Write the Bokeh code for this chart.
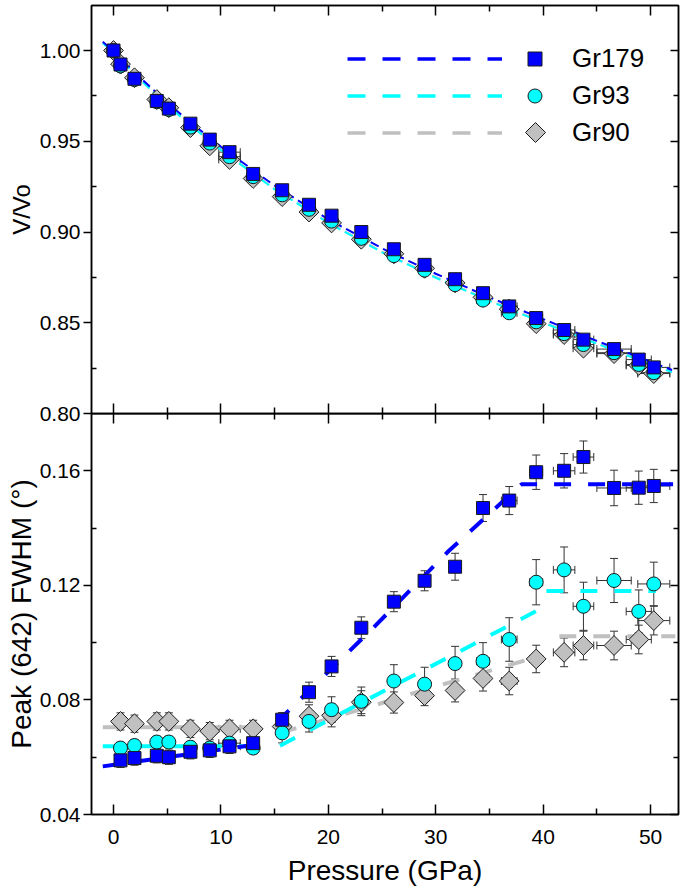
import math
from bokeh.plotting import figure
from bokeh.models import (Range1d, LinearAxis, FixedTicker, PrintfTickFormatter,
                          Whisker, TeeHead, ColumnDataSource, Legend, LegendItem,
                          PolyAnnotation)
from bokeh.layouts import column
from bokeh.embed import file_html
from bokeh.resources import INLINE

nan = float("nan")

# ---------------- data ----------------
series_names = ["Gr179", "Gr93", "Gr90"]

pressure = [0.0, 0.65, 1.95, 4.03, 5.15, 7.16, 8.96, 10.8, 13.0, 15.7, 18.2, 20.3,
            23.07, 26.1, 28.96, 31.8, 34.4, 36.84, 39.35, 41.95, 43.75, 46.6, 48.9, 50.3]
pressure_err = [0.0, 0.2, 0.2, 0.2, 0.2, 0.3, 0.3, 1.0, 0.3, 0.3, 0.3, 0.4,
                0.4, 0.5, 0.5, 0.5, 0.6, 0.73, 0.6, 1.0, 0.96, 1.6, 1.17, 1.49]

v_gr179 = [1.000, 0.9923, 0.9844, 0.9722, 0.9680, 0.9597, 0.9509, 0.9440, 0.9320, 0.9230, 0.9150, 0.9090,
           0.9000, 0.8905, 0.8819, 0.8740, 0.8663, 0.8590, 0.8526, 0.8460, 0.8407, 0.8355, 0.8297, 0.8254]
v_gr93 = [1.000, 0.9915, 0.9840, 0.9718, 0.9675, 0.9578, 0.9490, 0.9415, 0.9305, 0.9205, 0.9125, 0.9060,
          0.8965, 0.8870, 0.8790, 0.8710, 0.8625, 0.8555, 0.8505, 0.8440, 0.8380, 0.8335, 0.8270, 0.8225]
v_gr90 = [1.000, 0.9925, 0.9850, 0.9730, 0.9685, 0.9575, 0.9475, 0.9400, 0.9295, 0.9195, 0.9110, 0.9050,
          0.8960, 0.8880, 0.8800, 0.8720, 0.8640, 0.8575, 0.8495, 0.8435, 0.8360, 0.8330, 0.8265, 0.8220]
v_err = [0.0015, 0.0015, 0.0015, 0.0015, 0.0015, 0.0015, 0.0015, 0.0015, 0.0015, 0.0015, 0.0015, 0.0015,
         0.0015, 0.0015, 0.0015, 0.0015, 0.0015, 0.0015, 0.0015, 0.0015, 0.0015, 0.0015, 0.0015, 0.0015]

# FWHM (no ambient point)
fwhm_pressure = pressure[1:]
fwhm_pressure_err = pressure_err[1:]
fwhm_gr179 = [0.0589, 0.0597, 0.0605, 0.0600, 0.0619, 0.0624, 0.0638, 0.0649, 0.0731, 0.0827, 0.0917,
              0.1052, 0.1143, 0.1216, 0.1265, 0.1470, 0.1496, 0.1595, 0.1600, 0.1648, 0.1540, 0.1541, 0.1547]
fwhm_gr93 = [0.0632, 0.0641, 0.0653, 0.0653, 0.0635, 0.0632, 0.0649, 0.0632, 0.0685, 0.0725, 0.0766,
             0.0795, 0.0866, 0.0855, 0.0927, 0.0935, 0.1011, 0.1211, 0.1254, 0.1127, 0.1217, 0.1109, 0.1205]
fwhm_gr90 = [0.0725, 0.0717, 0.0725, 0.0725, 0.0699, 0.0691, 0.0699, 0.0699, 0.0707, 0.0743, 0.0746,
             0.0792, 0.0791, 0.0815, 0.0833, 0.0875, 0.0866, 0.0943, 0.0966, 0.0990, 0.0990, 0.1011, 0.1077]
fwhm_err_gr179 = [0.0025, 0.0025, 0.0025, 0.0025, 0.0025, 0.0025, 0.0025, 0.0025, 0.0025, 0.0035, 0.0035,
                  0.0038, 0.0035, 0.0035, 0.0047, 0.0047, 0.0049, 0.0060, 0.0060, 0.0056, 0.0062, 0.0058, 0.0058]
fwhm_err_gr93 = [0.0020, 0.0020, 0.0020, 0.0020, 0.0020, 0.0020, 0.0020, 0.0020, 0.0035, 0.0037, 0.0045,
                 0.0050, 0.0057, 0.0059, 0.0060, 0.0065, 0.0076, 0.0079, 0.0080, 0.0084, 0.0077, 0.0075, 0.0076]
fwhm_err_gr90 = [0.0030, 0.0030, 0.0030, 0.0030, 0.0030, 0.0030, 0.0030, 0.0030, 0.0030, 0.0040, 0.0040,
                 0.0040, 0.0037, 0.0035, 0.0040, 0.0044, 0.0048, 0.0048, 0.0050, 0.0050, 0.0050, 0.0050, 0.0050]

# fitted curves
fit_v_pressure = [-1.0, 0.0, 2.5, 5.0, 7.5, 10.0, 15.0, 20.0, 25.0, 30.0, 35.0, 40.0, 45.0, 50.0, 52.0]
fit_v_gr179 = [1.0048, 0.9995, 0.9850, 0.9712, 0.9588, 0.9470, 0.9255, 0.9070, 0.8910, 0.8770, 0.8640,
               0.8520, 0.8400, 0.8285, 0.8240]
fit_v_gr93 = [1.0040, 0.9990, 0.9838, 0.9698, 0.9572, 0.9452, 0.9235, 0.9050, 0.8888, 0.8748, 0.8620,
              0.8500, 0.8385, 0.8270, 0.8228]
fit_v_gr90 = [1.0042, 0.9992, 0.9840, 0.9700, 0.9574, 0.9454, 0.9238, 0.9053, 0.8892, 0.8752, 0.8624,
              0.8503, 0.8388, 0.8272, 0.8230]

fit_f_p_gr179 = [-1.0, 13.8, nan, 15.2, 24.4, 31.2, 38.0, 52.3]
fit_f_gr179 = [0.0568, 0.0647, nan, 0.0722, 0.1060, 0.1320, 0.1553, 0.1553]
fit_f_p_gr93 = [-1.0, 13.8, nan, 15.5, 25.6, 31.5, 39.8, nan, 40.3, 50.5]
fit_f_gr93 = [0.0638, 0.0638, nan, 0.0640, 0.0840, 0.0955, 0.1119, nan, 0.1180, 0.1180]
fit_f_p_gr90 = [-1.0, 13.8, nan, 15.5, 23.75, 29.8, 38.5, nan, 41.5, 52.3]
fit_f_gr90 = [0.0705, 0.0705, nan, 0.0685, 0.0775, 0.0845, 0.0940, nan, 0.1022, 0.1022]

x_ticks = [0, 10, 20, 30, 40, 50]
x_minor = [5, 15, 25, 35, 45]
v_ticks = [0.80, 0.85, 0.90, 0.95, 1.00]
v_minor = [0.825, 0.875, 0.925, 0.975]
f_ticks = [0.04, 0.08, 0.12, 0.16]
f_minor = [0.06, 0.10, 0.14]

# ---------------- style ----------------
FONT = "Liberation Sans"
BLUE, CYAN, GRAY = "#0000ff", "#00ffff", "#c0c0c0"
EDGE = "#1a1a1a"
ERR = "#333333"
W = 680
XR = (-2.05, 52.6)


def base_fig(height, yr, border_bottom, border_top):
    p = figure(width=W, height=height, x_range=Range1d(*XR), y_range=Range1d(*yr),
               output_backend="svg", toolbar_location=None,
               min_border_left=91, min_border_right=2,
               min_border_top=border_top, min_border_bottom=border_bottom)
    p.xgrid.visible = False
    p.ygrid.visible = False
    p.outline_line_color = "black"
    p.outline_line_width = 1.5
    p.background_fill_color = None
    p.border_fill_color = None
    return p


def style(ax, ticker, show_labels, tin, tout, min_in, min_out):
    ax.ticker = ticker
    ax.axis_line_color = "black"
    ax.axis_line_width = 1.5
    ax.major_tick_line_color = "black"
    ax.minor_tick_line_color = "black"
    ax.major_tick_line_width = 1.5
    ax.minor_tick_line_width = 1.5
    ax.major_tick_in = tin
    ax.major_tick_out = tout
    ax.minor_tick_in = min_in
    ax.minor_tick_out = min_out
    ax.major_label_text_font = FONT
    ax.axis_label_text_font = FONT
    ax.axis_label_text_font_style = "normal"
    ax.axis_label_text_color = "black"
    if show_labels:
        ax.major_label_text_font_size = "21px"
        ax.major_label_text_color = "black"
    else:
        ax.major_label_text_font_size = "0px"
        ax.major_label_text_color = None
        ax.major_label_standoff = 0


def add_err(p, x, y, xe, ye):
    src = ColumnDataSource(dict(x=x, y=y,
                                ylo=[a - b for a, b in zip(y, ye)], yhi=[a + b for a, b in zip(y, ye)],
                                xlo=[a - b for a, b in zip(x, xe)], xhi=[a + b for a, b in zip(x, xe)]))
    for dim, base, lo, hi in (("height", "x", "ylo", "yhi"), ("width", "y", "xlo", "xhi")):
        w = Whisker(source=src, base=base, lower=lo, upper=hi, dimension=dim,
                    line_color=ERR, line_width=1, level="underlay",
                    lower_head=TeeHead(size=8, line_color=ERR, line_width=1),
                    upper_head=TeeHead(size=8, line_color=ERR, line_width=1))
        p.add_layout(w)


def add_markers(p, x, ys):
    rs = {}
    rs["Gr90"] = p.scatter(x, ys[2], marker="square", angle=math.pi / 4, size=14,
                           fill_color=GRAY, line_color=EDGE, line_width=1)
    rs["Gr93"] = p.scatter(x, ys[1], marker="circle", size=14,
                           fill_color=CYAN, line_color=EDGE, line_width=1)
    rs["Gr179"] = p.scatter(x, ys[0], marker="square", size=13,
                            fill_color=BLUE, line_color=EDGE, line_width=1)
    return rs


# ---------------- top panel ----------------
p1 = base_fig(425, (0.80, 1.0248), 12, 5)
style(p1.yaxis[0], FixedTicker(ticks=v_ticks, minor_ticks=v_minor), True, 0, 8, 5, 0)
p1.yaxis[0].formatter = PrintfTickFormatter(format="%.2f")
p1.yaxis[0].major_label_standoff = 3
p1.yaxis[0].axis_label = "V/Vo"
p1.yaxis[0].axis_label_text_font_size = "24px"
p1.yaxis[0].axis_label_standoff = 2
style(p1.xaxis[0], FixedTicker(ticks=x_ticks, minor_ticks=x_minor), False, 10, 0, 6, 0)
ax = LinearAxis()
style(ax, FixedTicker(ticks=x_ticks, minor_ticks=x_minor), False, 10, 0, 6, 0)
p1.add_layout(ax, "above")
ax = LinearAxis()
style(ax, FixedTicker(ticks=v_ticks, minor_ticks=v_minor), False, 8, 0, 5, 0)
p1.add_layout(ax, "right")

p1.line(fit_v_pressure, fit_v_gr90, line_color=GRAY, line_width=2, line_dash="9 5")
p1.line(fit_v_pressure, fit_v_gr93, line_color=CYAN, line_width=2, line_dash="9 5")
p1.line(fit_v_pressure, fit_v_gr179, line_color=BLUE, line_width=2, line_dash="9 5")
add_err(p1, pressure, v_gr90, pressure_err, v_err)
add_err(p1, pressure, v_gr93, pressure_err, v_err)
add_err(p1, pressure, v_gr179, pressure_err, v_err)
mk = add_markers(p1, pressure, (v_gr179, v_gr93, v_gr90))

# legend: dashed line samples (renderers without drawable points), then marker + label
leg_lines = []
for c in (BLUE, CYAN, GRAY):
    leg_lines.append(p1.line(x=[nan], y=[nan], line_color=c, line_width=3.5, line_dash="18 17"))
legend_a = Legend(items=[LegendItem(label=" ", renderers=[r]) for r in leg_lines],
                  location=(256, 262), glyph_width=155, glyph_height=37, label_width=0,
                  label_height=37, label_standoff=0, spacing=0, padding=0, margin=0,
                  border_line_color=None, background_fill_alpha=0,
                  label_text_font_size="1px", label_text_color=None)
# the legend cannot rotate a marker, so the Gr90 key is an invisible stand-in
# and its diamond is drawn as a screen-space polygon at the key position
gr90_key = p1.scatter(x=[nan], y=[nan], marker="square", size=14, fill_alpha=0, line_alpha=0)
legend_b = Legend(items=[LegendItem(label="Gr179", renderers=[mk["Gr179"]]),
                         LegendItem(label="Gr93", renderers=[mk["Gr93"]]),
                         LegendItem(label="Gr90", renderers=[gr90_key])],
                  location=(426, 262), glyph_width=35, glyph_height=37, label_height=37,
                  label_standoff=20, spacing=0, padding=0, margin=0,
                  border_line_color=None, background_fill_alpha=0,
                  label_text_font=FONT, label_text_font_size="26px", label_text_color="black")
p1.add_layout(legend_a)
p1.add_layout(legend_b)
key_cx, key_cy, key_r = 535, 132, 10
p1.add_layout(PolyAnnotation(xs=[key_cx, key_cx + key_r, key_cx, key_cx - key_r],
                             ys=[key_cy - key_r, key_cy, key_cy + key_r, key_cy],
                             xs_units="canvas", ys_units="canvas",
                             fill_color=GRAY, fill_alpha=1, line_color=EDGE, line_width=1,
                             line_alpha=1))

# ---------------- bottom panel ----------------
p2 = base_fig(480, (0.04, 0.18), 79, 0)
p2.margin = (-12, 0, 0, 0)
style(p2.yaxis[0], FixedTicker(ticks=f_ticks, minor_ticks=f_minor), True, 0, 8, 5, 0)
p2.yaxis[0].formatter = PrintfTickFormatter(format="%.2f")
p2.yaxis[0].major_label_standoff = 3
p2.yaxis[0].axis_label = "Peak (642) FWHM (°)"
p2.yaxis[0].axis_label_text_font_size = "28px"
p2.yaxis[0].axis_label_standoff = 0
style(p2.xaxis[0], FixedTicker(ticks=x_ticks, minor_ticks=x_minor), True, 10, 0, 6, 0)
p2.xaxis[0].major_label_standoff = 15
p2.xaxis[0].axis_label = "Pressure (GPa)"
p2.xaxis[0].axis_label_text_font_size = "28px"
p2.xaxis[0].axis_label_standoff = 8
ax = LinearAxis()
style(ax, FixedTicker(ticks=x_ticks, minor_ticks=x_minor), False, 10, 0, 6, 0)
p2.add_layout(ax, "above")
ax = LinearAxis()
style(ax, FixedTicker(ticks=f_ticks, minor_ticks=f_minor), False, 8, 0, 5, 0)
p2.add_layout(ax, "right")

p2.line(fit_f_p_gr90, fit_f_gr90, line_color=GRAY, line_width=4, line_dash="17 17")
p2.line(fit_f_p_gr93, fit_f_gr93, line_color=CYAN, line_width=4, line_dash="17 17")
p2.line(fit_f_p_gr179, fit_f_gr179, line_color=BLUE, line_width=4, line_dash="17 17")
add_err(p2, fwhm_pressure, fwhm_gr90, fwhm_pressure_err, fwhm_err_gr90)
add_err(p2, fwhm_pressure, fwhm_gr93, fwhm_pressure_err, fwhm_err_gr93)
add_err(p2, fwhm_pressure, fwhm_gr179, fwhm_pressure_err, fwhm_err_gr179)
add_markers(p2, fwhm_pressure, (fwhm_gr179, fwhm_gr93, fwhm_gr90))

layout = column(p1, p2, spacing=0)
open("out.html", "w").write(file_html(layout, INLINE))
